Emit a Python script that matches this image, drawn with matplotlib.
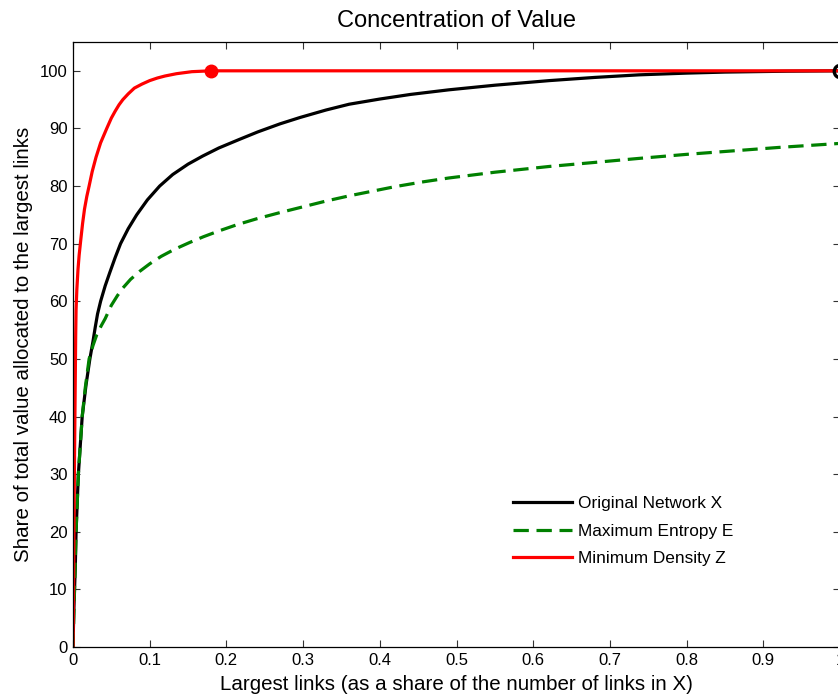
import matplotlib
matplotlib.use("Agg")
import matplotlib.pyplot as plt

plt.rcParams['font.family'] = ['Liberation Sans', 'DejaVu Sans']

# values
x_orig = [0, 0.001, 0.002, 0.003, 0.004, 0.0055, 0.007, 0.0095, 0.012, 0.017, 0.022,
          0.026, 0.029, 0.032, 0.036, 0.042, 0.048, 0.055, 0.062, 0.072, 0.083,
          0.097, 0.113, 0.13, 0.15, 0.169, 0.19, 0.217, 0.241, 0.27, 0.296, 0.33,
          0.36, 0.4, 0.44, 0.49, 0.55, 0.621, 0.68, 0.738, 0.8, 0.85, 0.93, 1.0]
y_orig = [0, 6, 10, 14, 20, 25, 30, 35, 40, 45.5, 50,
          53, 55.5, 57.8, 60, 62.7, 65, 67.6, 70, 72.6, 75,
          77.6, 80, 82, 83.8, 85.2, 86.6, 88.1, 89.4, 90.8, 91.9, 93.2,
          94.2, 95.1, 95.9, 96.7, 97.5, 98.3, 98.85, 99.3, 99.6, 99.78, 99.93, 100]

x_ent = [0, 0.002, 0.004, 0.007, 0.012, 0.016, 0.021, 0.026, 0.031, 0.037, 0.042,
         0.05, 0.058, 0.065, 0.075, 0.087, 0.1, 0.115, 0.132, 0.152, 0.17, 0.19,
         0.214, 0.239, 0.27, 0.3, 0.33, 0.36, 0.39, 0.42, 0.455, 0.49, 0.55,
         0.621, 0.68, 0.738, 0.8, 0.85, 0.92, 1.0]
y_ent = [0, 10, 20, 30, 40, 45, 50, 52.3, 54.2, 55.8, 57,
         59.3, 61, 62.3, 63.8, 65.2, 66.5, 67.8, 69, 70.2, 71.2, 72.2,
         73.3, 74.3, 75.4, 76.4, 77.4, 78.3, 79.1, 79.9, 80.7, 81.4, 82.4,
         83.4, 84.1, 84.8, 85.5, 86.0, 86.7, 87.4]

x_min = [0, 0.0005, 0.001, 0.0015, 0.002, 0.0025, 0.003, 0.0035, 0.004, 0.005, 0.0065,
         0.008, 0.01, 0.0125, 0.015, 0.018, 0.021, 0.025, 0.03, 0.036, 0.044, 0.05,
         0.055, 0.06, 0.065, 0.072, 0.08, 0.09, 0.1, 0.11, 0.12, 0.135, 0.155,
         0.18, 1.0]
y_min = [0, 5, 15, 25, 33, 40, 47, 54, 58.5, 62, 65.5,
         68, 70.5, 73.5, 76, 78.2, 80, 82.5, 85, 87.5, 90, 91.8,
         93, 94.1, 95, 96, 97, 97.7, 98.3, 98.75, 99.1, 99.5, 99.85,
         100, 100]

names = ['Original Network X', 'Maximum Entropy E', 'Minimum Density Z']

x_ticks = [0, 0.1, 0.2, 0.3, 0.4, 0.5, 0.6, 0.7, 0.8, 0.9, 1.0]
x_labels = ['0', '0.1', '0.2', '0.3', '0.4', '0.5', '0.6', '0.7', '0.8', '0.9', '1']
y_ticks = [0, 10, 20, 30, 40, 50, 60, 70, 80, 90, 100]

W, H = 838, 697
fig = plt.figure(figsize=(W / 100, H / 100), dpi=100)
# right edge of the axes sits just past the picture, as in the reference
ax = fig.add_axes([73 / W, (H - 647) / H, (840 - 73) / W, (647 - 42) / H])

line_kw = dict(lw=2.3, solid_joinstyle='round', dash_joinstyle='round')
ax.plot(x_orig, y_orig, color='black', label=names[0], **line_kw)
ax.plot(x_ent, y_ent, color='#008000', dashes=(4.8, 2.4), label=names[1], **line_kw)
ax.plot(x_min, y_min, color='#ff0000', label=names[2], **line_kw)

ax.plot([x_min[-2]], [y_min[-2]], 'o', color='#ff0000', ms=9, clip_on=False)
ax.plot([x_orig[-1]], [y_orig[-1]], 'o', mfc='none', mec='black', mew=2.4, ms=9,
        clip_on=False)

ax.set_xlim(0, 1)
ax.set_ylim(0, 105)
ax.set_xticks(x_ticks)
ax.set_xticklabels(x_labels)
ax.set_yticks(y_ticks)
ax.tick_params(direction='in', top=True, right=True, length=5, width=0.8,
               labelsize=12, pad=4, color='#333333')
for s in ax.spines.values():
    s.set_linewidth(0.9)

ax.set_title('Concentration of Value', fontsize=17, pad=11)
ax.set_xlabel('Largest links (as a share of the number of links in X)', fontsize=14.8, labelpad=5)
ax.set_ylabel('Share of total value allocated to the largest links', fontsize=14.8, labelpad=5)

ax.legend(loc='center left', bbox_to_anchor=(513 / W, 1 - 531 / H),
          bbox_transform=fig.transFigure, frameon=False, fontsize=12.4,
          handlelength=3.4, handletextpad=0.4, labelspacing=0.72,
          borderpad=0, borderaxespad=0)

fig.savefig('out.png', dpi=100)
